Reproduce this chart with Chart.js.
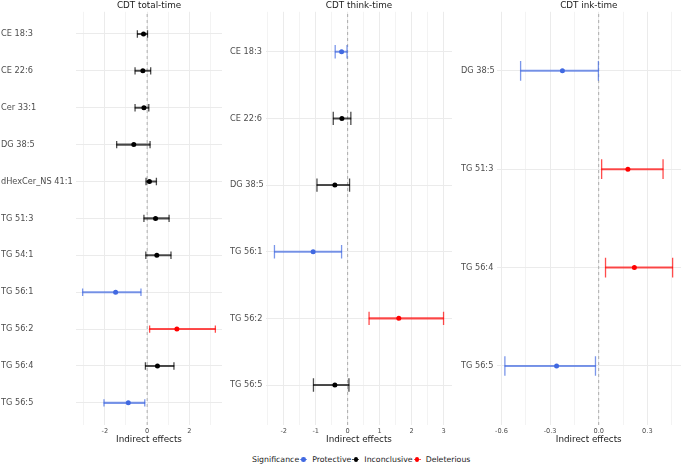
<!DOCTYPE html>
<html>
<head>
<meta charset="utf-8">
<script src="https://cdn.jsdelivr.net/npm/chart.js@4"></script>
<style>
  body { margin: 0; background: #fff; width: 685px; height: 465px; position: relative; overflow: hidden; font-family: 'DejaVu Sans', sans-serif; }
  .panel { position: absolute; top: 0; height: 450px; }
  #legend { position: absolute; left: 252px; top: 455px; font-size: 7.8px; color: #1a1a1a; display: flex; align-items: center; white-space: nowrap; line-height: 9px; }
  .key { position: relative; display: inline-block; width: 7px; height: 7px; margin: 0 5px 0 1px; }
  .key .bar { position: absolute; left: 0; right: 0; top: 3px; height: 1px; }
  .key .dot { position: absolute; left: 1.2px; top: 1.2px; width: 4.6px; height: 4.6px; border-radius: 50%; }
</style>
</head>
<body>
<div class="panel" style="left:0;width:226px"><canvas id="total"></canvas></div>
<div class="panel" style="left:229px;width:227px"><canvas id="think"></canvas></div>
<div class="panel" style="left:460px;width:225px"><canvas id="ink"></canvas></div>
<div id="legend"></div>
<script>
const sigLevels = ['Protective', 'Inconclusive', 'Deleterious'];
const pointColors = { Protective: '#4169E1', Inconclusive: '#000000', Deleterious: '#FF0000' };
const barColors = { Protective: 'rgba(65,105,225,0.7)', Inconclusive: 'rgba(0,0,0,0.7)', Deleterious: 'rgba(255,0,0,0.7)' };

// CDT total-time
const totalCats = ['CE 18:3', 'CE 22:6', 'Cer 33:1', 'DG 38:5', 'dHexCer_NS 41:1', 'TG 51:3', 'TG 54:1', 'TG 56:1', 'TG 56:2', 'TG 56:4', 'TG 56:5'];
const totalEst = [-0.17, -0.20, -0.15, -0.63, 0.11, 0.40, 0.46, -1.49, 1.41, 0.49, -0.89];
const totalLo = [-0.46, -0.57, -0.57, -1.44, -0.05, -0.15, -0.06, -3.05, 0.12, -0.08, -2.04];
const totalHi = [0.02, 0.17, 0.08, 0.14, 0.44, 1.04, 1.13, -0.29, 3.23, 1.27, -0.11];
const totalSig = ['Inconclusive', 'Inconclusive', 'Inconclusive', 'Inconclusive', 'Inconclusive', 'Inconclusive', 'Inconclusive', 'Protective', 'Deleterious', 'Inconclusive', 'Protective'];

// CDT think-time
const thinkCats = ['CE 18:3', 'CE 22:6', 'DG 38:5', 'TG 56:1', 'TG 56:2', 'TG 56:5'];
const thinkEst = [-0.19, -0.18, -0.40, -1.08, 1.60, -0.40];
const thinkLo = [-0.39, -0.45, -0.96, -2.29, 0.67, -1.07];
const thinkHi = [-0.02, 0.10, 0.06, -0.19, 3.00, 0.04];
const thinkSig = ['Protective', 'Inconclusive', 'Inconclusive', 'Protective', 'Deleterious', 'Inconclusive'];

// CDT ink-time
const inkCats = ['DG 38:5', 'TG 51:3', 'TG 56:4', 'TG 56:5'];
const inkEst = [-0.224, 0.18, 0.22, -0.26];
const inkLo = [-0.482, 0.018, 0.042, -0.579];
const inkHi = [-0.002, 0.397, 0.456, -0.02];
const inkSig = ['Protective', 'Deleterious', 'Deleterious', 'Protective'];

function makePanel(id, title, cats, est, lo, hi, sig, o) {
    const n = cats.length;
    const dmin = Math.min(...lo), dmax = Math.max(...hi);
    const pad = (dmax - dmin) * 0.05;
    const isMajor = v => Math.abs(v / o.major - Math.round(v / o.major)) < 1e-6;
    const capRadius = ctx => {
        const ys = ctx.chart.scales.y;
        return Math.abs(ys.getPixelForValue(1) - ys.getPixelForValue(0)) * 0.1;
    };

    new Chart(document.getElementById(id), {
        type: 'scatter',
        data: {
            datasets: [
                {
                    type: 'line',
                    data: [{ x: 0, y: 0 }, { x: 0, y: 1 }],
                    yAxisID: 'yz',
                    borderColor: 'rgba(0,0,0,0.28)',
                    borderWidth: 1,
                    borderDash: [3, 3],
                    pointRadius: 0,
                    order: 3
                },
                {
                    type: 'bar',
                    indexAxis: 'y',
                    data: cats.map((c, i) => ({ x: [lo[i], hi[i]], y: i })),
                    backgroundColor: ctx => barColors[sig[ctx.dataIndex]],
                    barThickness: 1.4,
                    borderWidth: 0,
                    order: 2
                },
                {
                    data: lo.map((v, i) => ({ x: v, y: i })).concat(hi.map((v, i) => ({ x: v, y: i }))),
                    pointStyle: 'line',
                    pointRotation: 90,
                    pointRadius: capRadius,
                    pointBorderWidth: 1.3,
                    pointBorderColor: ctx => barColors[sig[ctx.dataIndex % n]],
                    order: 1
                },
                {
                    data: est.map((v, i) => ({ x: v, y: i })),
                    pointRadius: 2.5,
                    pointBorderWidth: 0,
                    pointBackgroundColor: ctx => pointColors[sig[ctx.dataIndex]],
                    order: 0
                }
            ]
        },
        options: {
            responsive: true,
            maintainAspectRatio: false,
            animation: false,
            layout: { padding: { left: 1, right: o.padRight, top: 0, bottom: 0 } },
            plugins: {
                legend: { display: false },
                tooltip: { enabled: false },
                title: {
                    display: true,
                    text: title,
                    fullSize: false,
                    color: '#1a1a1a',
                    font: { family: 'DejaVu Sans', size: 8.8, weight: 'normal', lineHeight: 1 },
                    padding: { top: 1, bottom: 2 }
                }
            },
            scales: {
                x: {
                    type: 'linear',
                    min: dmin - pad,
                    max: dmax + pad,
                    offset: false,
                    border: { display: false },
                    grid: {
                        offset: false,
                        color: '#ebebeb',
                        lineWidth: ctx => (ctx.tick && isMajor(ctx.tick.value)) ? 1 : 0.6,
                        drawTicks: false
                    },
                    ticks: {
                        stepSize: o.step,
                        includeBounds: false,
                        autoSkip: false,
                        maxRotation: 0,
                        maxTicksLimit: 100,
                        padding: 2,
                        color: '#4d4d4d',
                        font: { family: 'DejaVu Sans', size: 6.6 },
                        callback: v => isMajor(v) ? o.fmt(v) : ''
                    },
                    title: {
                        display: true,
                        text: 'Indirect effects',
                        color: '#1a1a1a',
                        font: { family: 'DejaVu Sans', size: 8.8 },
                        padding: { top: 0, bottom: 5 }
                    },
                    afterFit: s => { s.height = 25; }
                },
                y: {
                    type: 'linear',
                    min: -0.6,
                    max: n - 0.4,
                    reverse: true,
                    offset: false,
                    border: { display: false },
                    grid: { offset: false, color: '#ebebeb', lineWidth: 1, drawTicks: false },
                    ticks: {
                        stepSize: 1,
                        includeBounds: false,
                        autoSkip: false,
                        maxTicksLimit: 100,
                        crossAlign: 'far',
                        color: '#4d4d4d',
                        font: { family: 'DejaVu Sans', size: 8.2 },
                        callback: v => cats[v] !== undefined ? cats[v] : ''
                    },
                    afterFit: s => { s.width = o.axisWidth; }
                },
                yz: { type: 'linear', display: false, min: 0, max: 1 }
            }
        }
    });
}

makePanel('total', 'CDT total-time', totalCats, totalEst, totalLo, totalHi, totalSig,
    { step: 1, major: 2, axisWidth: 75, padRight: 2, fmt: v => String(Math.round(v)) });
makePanel('think', 'CDT think-time', thinkCats, thinkEst, thinkLo, thinkHi, thinkSig,
    { step: 0.5, major: 1, axisWidth: 36, padRight: 2, fmt: v => String(Math.round(v)) });
makePanel('ink', 'CDT ink-time', inkCats, inkEst, inkLo, inkHi, inkSig,
    { step: 0.15, major: 0.3, axisWidth: 35.5, padRight: 0, fmt: v => (Math.abs(v) < 1e-9 ? 0 : v).toFixed(1) });

// legend
const legend = document.getElementById('legend');
const head = document.createElement('span');
head.textContent = 'Significance';
legend.appendChild(head);
sigLevels.forEach(s => {
    const key = document.createElement('span');
    key.className = 'key';
    key.innerHTML = `<span class="bar" style="background:${barColors[s]}"></span><span class="dot" style="background:${pointColors[s]}"></span>`;
    legend.appendChild(key);
    const lab = document.createElement('span');
    lab.textContent = s;
    legend.appendChild(lab);
});
</script>
</body>
</html>
